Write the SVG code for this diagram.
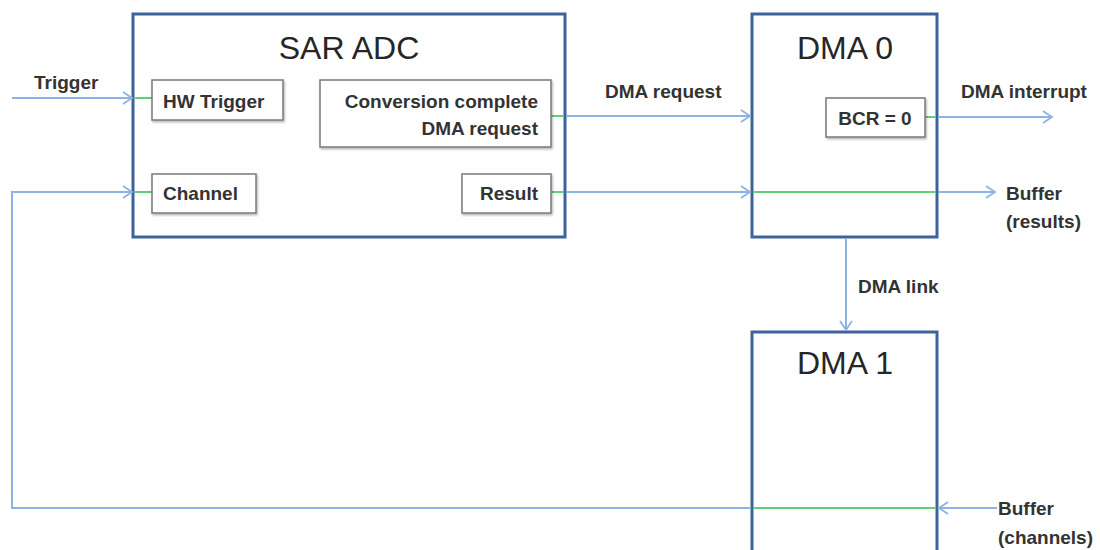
<svg xmlns="http://www.w3.org/2000/svg" width="1100" height="550" viewBox="0 0 1100 550">
<defs>
<marker id="arr" markerUnits="userSpaceOnUse" markerWidth="12" markerHeight="14" refX="10" refY="7" orient="auto">
<path d="M1,1 L10,7 L1,13" fill="none" stroke="#8db3e2" stroke-width="1.8"/>
</marker>
<filter id="sh" x="-10%" y="-10%" width="130%" height="140%">
<feDropShadow dx="1" dy="1.5" stdDeviation="0.8" flood-color="#000" flood-opacity="0.3"/>
</filter>
</defs>
<style>
.big{fill:#fff;stroke:#3c6499;stroke-width:3}
.sub{fill:#fff;stroke:#7a7a7a;stroke-width:1.5}
.title{font-family:"Liberation Sans",Arial,sans-serif;font-size:32px;fill:#262626;text-anchor:middle}
.lbl{font-family:"Liberation Sans",Arial,sans-serif;font-size:19px;font-weight:bold;fill:#333}
.c{fill:none;stroke:#8db3e2;stroke-width:2}
.g{fill:none;stroke:#5fcf78;stroke-width:2}
</style>
<rect width="1100" height="550" fill="#fff"/>
<g id="sar-adc">
<rect class="big" x="133" y="14" width="432" height="223"/>
<text class="title" x="349" y="59">SAR ADC</text>
</g>
<g id="dma0">
<rect class="big" x="752" y="14" width="185" height="223"/>
<text class="title" x="845" y="59">DMA 0</text>
</g>
<g id="dma1">
<rect class="big" x="752" y="332" width="185" height="230"/>
<text class="title" x="845" y="374">DMA 1</text>
</g>
<g id="connectors">
<line class="c" x1="12" y1="98" x2="132" y2="98" marker-end="url(#arr)"/>
<line class="g" x1="135" y1="98" x2="152" y2="98"/>
<polyline class="c" points="751,508 12,508 12,192 132,192" marker-end="url(#arr)"/>
<line class="g" x1="135" y1="192" x2="152" y2="192"/>
<line class="g" x1="551" y1="116" x2="564" y2="116"/>
<line class="c" x1="566" y1="116" x2="750" y2="116" marker-end="url(#arr)"/>
<line class="g" x1="550" y1="192" x2="564" y2="192"/>
<line class="c" x1="566" y1="192" x2="750" y2="192" marker-end="url(#arr)"/>
<line class="g" x1="753" y1="192" x2="936" y2="192"/>
<line class="c" x1="938" y1="192" x2="995" y2="192" marker-end="url(#arr)"/>
<line class="g" x1="925" y1="117" x2="936" y2="117"/>
<line class="c" x1="938" y1="117" x2="1052" y2="117" marker-end="url(#arr)"/>
<line class="c" x1="846" y1="238" x2="846" y2="330" marker-end="url(#arr)"/>
<line class="c" x1="997" y1="508" x2="939" y2="508" marker-end="url(#arr)"/>
<line class="g" x1="753" y1="508" x2="936" y2="508"/>
<text class="lbl" x="34" y="89">Trigger</text>
<text class="lbl" x="605" y="98">DMA request</text>
<text class="lbl" x="961" y="98">DMA interrupt</text>
<text class="lbl" x="1006" y="200">Buffer</text>
<text class="lbl" x="1006" y="228">(results)</text>
<text class="lbl" x="858" y="293">DMA link</text>
<text class="lbl" x="998" y="515">Buffer</text>
<text class="lbl" x="998" y="544">(channels)</text>
</g>
<g id="hw-trigger">
<rect class="sub" x="152" y="80" width="131" height="40" filter="url(#sh)"/>
<text class="lbl" x="163" y="108">HW Trigger</text>
</g>
<g id="conversion-complete">
<rect class="sub" x="320" y="80" width="231" height="67" filter="url(#sh)"/>
<text class="lbl" x="538" y="108" text-anchor="end">Conversion complete</text>
<text class="lbl" x="538" y="135" text-anchor="end">DMA request</text>
</g>
<g id="channel">
<rect class="sub" x="152" y="174" width="104" height="39" filter="url(#sh)"/>
<text class="lbl" x="163" y="200">Channel</text>
</g>
<g id="result">
<rect class="sub" x="462" y="174" width="89" height="39" filter="url(#sh)"/>
<text class="lbl" x="538" y="200" text-anchor="end">Result</text>
</g>
<g id="bcr">
<rect class="sub" x="826" y="98" width="99" height="39" filter="url(#sh)"/>
<text class="lbl" x="875" y="125" text-anchor="middle">BCR = 0</text>
</g>
</svg>
